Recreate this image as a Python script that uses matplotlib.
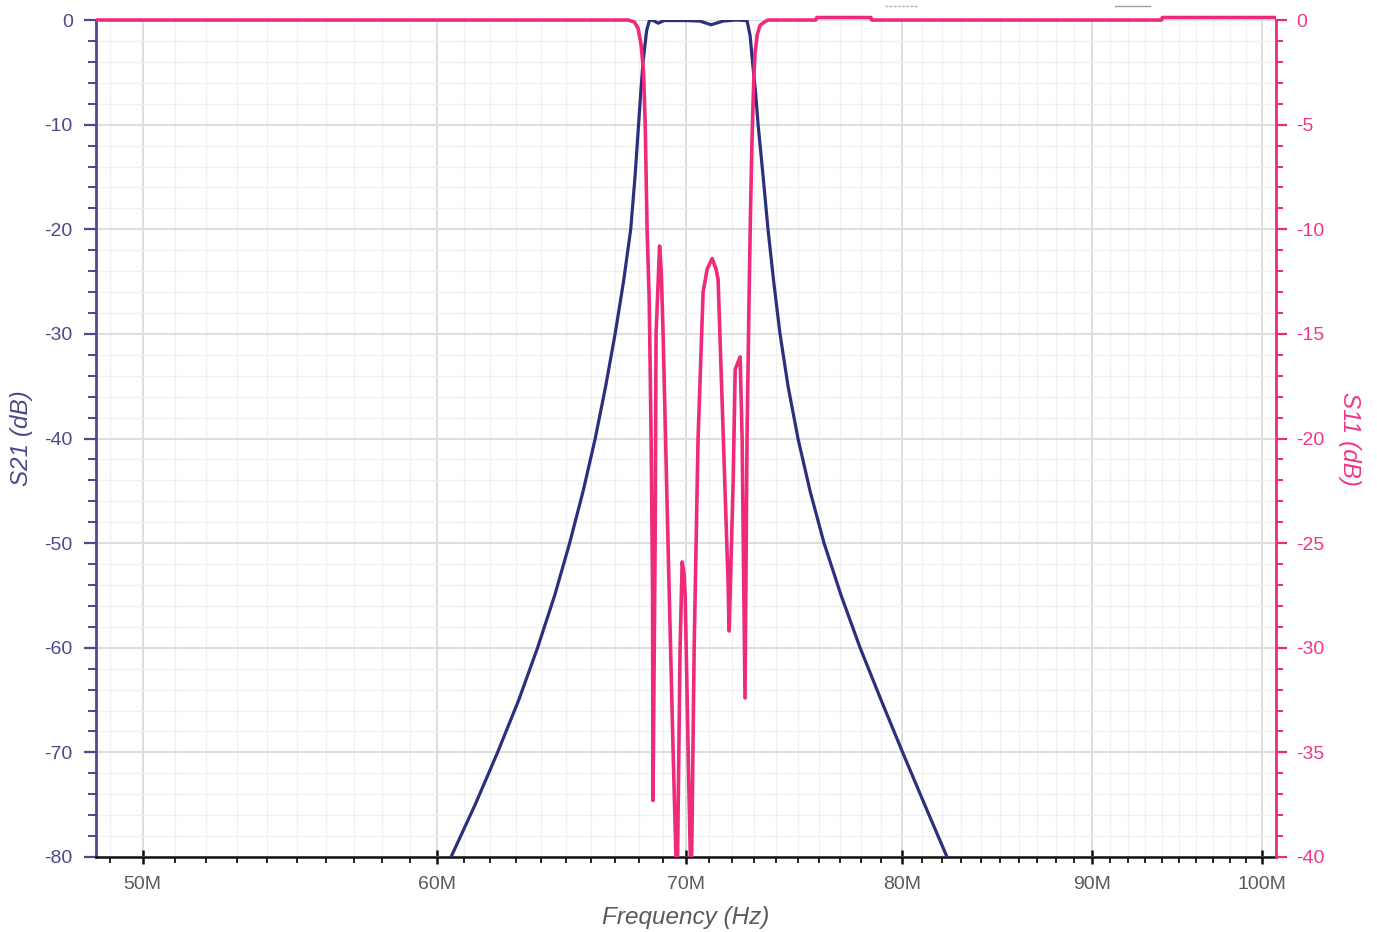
import numpy as np
import matplotlib
matplotlib.use("Agg")
import matplotlib.pyplot as plt
from matplotlib.ticker import FixedLocator, FixedFormatter, MultipleLocator, NullFormatter
from matplotlib.transforms import Bbox, TransformedBbox
from matplotlib.lines import Line2D

plt.rcParams['font.family'] = ['Liberation Sans', 'DejaVu Sans']
plt.rcParams['axes.unicode_minus'] = False

# S21 传输曲线 (MHz, dB)
s21_freq = [60.2, 60.52, 61.43, 62.29, 63.11, 63.85, 64.53, 65.13, 65.68, 66.17, 66.60, 66.99,
            67.34, 67.64, 67.82, 67.97, 68.06, 68.16, 68.31, 68.42,
            68.55, 68.80, 69.05, 70.0, 70.6, 71.09, 71.62, 72.2, 72.69, 72.83, 72.96, 73.08,
            73.19, 73.42, 73.64, 73.90, 74.19, 74.56, 75.02, 75.58, 76.24, 77.05, 77.96,
            78.98, 80.04, 81.14, 82.27, 82.7]
s21_db = [-83, -80, -75, -70, -65, -60, -55, -50, -45, -40, -35, -30,
          -25, -20, -15, -10, -7, -4, -1, -0.1,
          0, -0.3, -0.05, -0.05, -0.1, -0.45, -0.1, 0, -0.05, -1.5, -4.5, -7,
          -10, -15, -20, -25, -30, -35, -40, -45, -50, -55, -60,
          -65, -70, -75, -80, -81.5]

# S11 反射曲线 (MHz, dB)
s11_freq = [48.0, 67.53, 67.80, 67.95, 68.08, 68.18, 68.25, 68.33, 68.42, 68.50, 68.56, 68.58,
            68.67, 68.71, 68.86, 68.93, 69.01, 69.22, 69.44, 69.61, 69.74, 69.83, 69.91,
            69.96, 70.09, 70.22, 70.35, 70.52, 70.74, 70.92, 71.14, 71.31, 71.40, 71.62,
            71.84, 71.89, 72.07, 72.16, 72.38, 72.47, 72.60, 72.69, 72.78, 72.85, 72.92,
            72.99, 73.05, 73.15, 73.28, 73.5, 73.64,
            75.85, 75.9, 78.48, 78.53, 93.95, 94.0, 102.0]
s11_db = [0, 0, -0.1, -0.4, -1.2, -2.5, -5, -10, -13.4, -20, -27, -37.3,
          -25, -15, -10.8, -12, -15, -25, -35, -42, -30, -25.9, -26.5,
          -27.5, -35, -42, -30, -20, -13, -11.9, -11.4, -11.9, -12.4, -19.6,
          -26.8, -29.2, -22, -16.7, -16.1, -20, -32.4, -20, -13.4, -9, -5.5,
          -3, -1.6, -0.7, -0.25, -0.08, 0,
          0, 0.12, 0.12, 0, 0, 0.12, 0.12]

major_ticks = [50, 60, 70, 80, 90, 100]
major_labels = ["50M", "60M", "70M", "80M", "90M", "100M"]

navy = "#2b2f7c"
navy_txt = "#4a4a8c"
pink = "#ee2a7b"
pink_txt = "#f0368a"
gray_txt = "#5a5a5a"

fig = plt.figure(figsize=(13.77, 9.32), dpi=100)
ax = fig.add_axes([0.0695, 0.0805, 0.857, 0.898])
ax2 = ax.twinx()

ax.plot(np.array(s21_freq) * 1e6, s21_db, color=navy, lw=2.3, solid_joinstyle='round', zorder=3)

s11_line, = ax2.plot(np.array(s11_freq) * 1e6, s11_db, color=pink, lw=2.6, solid_joinstyle='round')
s11_line.set_clip_box(TransformedBbox(Bbox([[0, 0], [1, 1.006]]), ax2.transAxes))

ax.set_xscale('log')
ax.set_xlim(48.57e6, 100.84e6)
ax.set_ylim(-80, 0)
ax2.set_ylim(-40, 0)

ax.xaxis.set_major_locator(FixedLocator([m * 1e6 for m in major_ticks]))
ax.xaxis.set_major_formatter(FixedFormatter(major_labels))
ax.xaxis.set_minor_locator(FixedLocator(np.arange(49, 101) * 1e6))
ax.xaxis.set_minor_formatter(NullFormatter())

ax.yaxis.set_major_locator(MultipleLocator(10))
ax.yaxis.set_minor_locator(MultipleLocator(2))
ax2.yaxis.set_major_locator(MultipleLocator(5))
ax2.yaxis.set_minor_locator(MultipleLocator(1))

# 网格
ax.set_axisbelow(True)
ax.grid(which='major', color='#dedede', lw=1.4)
ax.grid(which='minor', color='#f0f0f0', lw=1.0)

for s in ['top', 'right']:
    ax.spines[s].set_visible(False)
for s in ['top', 'left', 'bottom']:
    ax2.spines[s].set_visible(False)
ax.spines['left'].set_color(navy_txt)
ax.spines['left'].set_linewidth(2)
ax.spines['bottom'].set_color('#111111')
ax.spines['bottom'].set_linewidth(1.8)
ax2.spines['right'].set_color(pink)
ax2.spines['right'].set_linewidth(2)

ax.tick_params(axis='y', which='major', length=8.5, width=1.6, color=navy_txt,
               labelcolor=navy_txt, labelsize=14, pad=8)
ax.tick_params(axis='y', which='minor', length=5.5, width=1.4, color=navy_txt)
ax2.tick_params(axis='y', which='major', length=8, width=1.6, color=pink,
                labelcolor=pink_txt, labelsize=14, pad=7)
ax2.tick_params(axis='y', which='minor', length=5, width=1.4, color=pink)
ax.tick_params(axis='x', which='major', length=10, width=1.8, color='#111111', direction='inout',
               labelcolor=gray_txt, labelsize=14, pad=9)
ax.tick_params(axis='x', which='minor', length=4.5, width=1.3, color='#111111')

ax.set_ylabel("S21 (dB)", fontsize=17.5, style='italic', color=navy_txt, labelpad=8)
ax2.set_ylabel("S11 (dB)", fontsize=17.5, style='italic', color=pink_txt, rotation=-90, labelpad=26)
ax.set_xlabel("Frequency (Hz)", fontsize=17.5, style='italic', color=gray_txt, labelpad=9)

# 顶部残留的浅灰标记
fig.add_artist(Line2D([885 / 1377, 918 / 1377], [1 - 6 / 932, 1 - 6 / 932], color='#b0b0b0', lw=1, ls=(0, (2, 1))))
fig.add_artist(Line2D([1115 / 1377, 1150 / 1377], [1 - 6 / 932, 1 - 6 / 932], color='#a0a0a0', lw=1))

fig.savefig("out.png", dpi=100)
